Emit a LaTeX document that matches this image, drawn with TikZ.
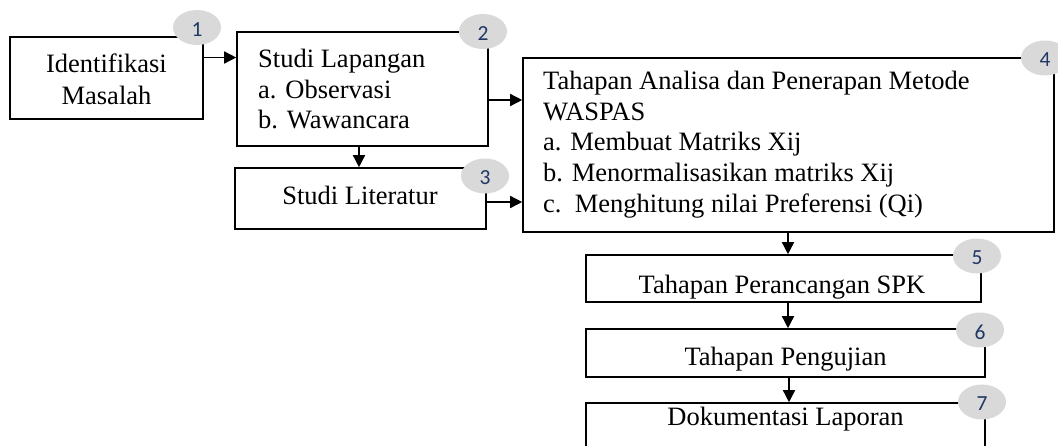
\documentclass[tikz,border=0pt]{standalone}
\usepackage{fontspec}
\setmainfont{Liberation Serif}
\newfontfamily\numfont{Carlito}
\usetikzlibrary{arrows.meta,calc,shapes.geometric}
\definecolor{numblue}{HTML}{1F3864}
\definecolor{badgegray}{HTML}{D9D9D9}
\begin{document}
\begin{tikzpicture}[x=1pt,y=-1pt,
  box/.style={draw=black,line width=1.6pt,rectangle,inner sep=0pt},
  txt/.style={font=\fontsize{26.5}{30.7}\selectfont,inner sep=0pt,anchor=base},
  txtl/.style={txt,anchor=base west},
  badge/.style={ellipse,fill=badgegray,minimum width=48pt,minimum height=35pt,inner sep=0pt},
  numtxt/.style={font=\numfont\fontsize{21.5}{24}\selectfont,text=numblue,inner sep=0pt},
  arr/.style={line width=1.5pt,-{Triangle[length=12pt,width=12pt]}}]
\useasboundingbox (0,0) rectangle (1058,445);
\clip (0,0) rectangle (1058,445);
% boxes
\node[box,minimum width=193pt,minimum height=82pt] (b1) at (106.5,78) {};
\node[box,minimum width=251pt,minimum height=114pt] (b2) at (362.5,89) {};
\node[box,minimum width=251pt,minimum height=61pt] (b3) at (360.5,198.5) {};
\node[box,minimum width=531pt,minimum height=174pt] (b4) at (788.5,145) {};
\node[box,minimum width=395pt,minimum height=47pt] (b5) at (783.5,278.5) {};
\node[box,minimum width=399pt,minimum height=48pt] (b6) at (785.5,353) {};
\node[box,minimum width=399pt,minimum height=67pt] (b7) at (785.5,436.5) {};
% texts
\node[txt] (t1a) at (106.5,72.5) {Identifikasi};
\node[txt] (t1b) at (106.5,104) {Masalah};
\node[txtl] (t2a) at (258,67) {Studi Lapangan};
\node[txtl] (t2b) at (258,98) {a. Observasi};
\node[txtl] (t2c) at (258,128) {b. Wawancara};
\node[txt] (t3) at (360,204) {Studi Literatur};
\node[txtl] (t4a) at (543,89) {Tahapan Analisa dan Penerapan Metode};
\node[txtl] (t4b) at (543,120) {WASPAS};
\node[txtl] (t4c) at (543,150.5) {a. Membuat Matriks Xij};
\node[txtl] (t4d) at (543,181) {b. Menormalisasikan matriks Xij};
\node[txtl] (t4e) at (543,212) {c.~\ Menghitung nilai Preferensi (Qi)};
\node[txt] (t5) at (782,293) {Tahapan Perancangan SPK};
\node[txt] (t6) at (785.5,365) {Tahapan Pengujian};
\node[txt] (t7) at (785.5,425) {Dokumentasi Laporan};
% badges
\node[badge] (n1) at (197,27.5) {};
\node[badge] (n2) at (483,31.5) {};
\node[badge] (n3) at (485,176) {};
\node[badge] (n4) at (1045,58) {};
\node[badge] (n5) at (977,256) {};
\node[badge] (n6) at (980,330) {};
\node[badge] (n7) at (982,402) {};
\node[numtxt] (d1) at ([yshift=-2pt]n1.center) {1};
\node[numtxt] (d2) at ([yshift=-2pt]n2.center) {2};
\node[numtxt] (d3) at ([yshift=-2pt]n3.center) {3};
\node[numtxt] (d4) at ([yshift=-2pt]n4.center) {4};
\node[numtxt] (d5) at ([yshift=-2pt]n5.center) {5};
\node[numtxt] (d6) at ([yshift=-2pt]n6.center) {6};
\node[numtxt] (d7) at ([yshift=-2pt]n7.center) {7};
% connector guides
\coordinate (r12) at (0,57.5);
\coordinate (r24) at (0,100);
\coordinate (r34) at (0,202);
\coordinate (k23) at (359,0);
\coordinate (k45) at (788,0);
\coordinate (k67) at (789,0);
% connectors
\draw[arr] (b1.east |- r12) -- (b2.west |- r12);
\draw[arr] (b2.east |- r24) -- (b4.west |- r24);
\draw[arr] (b3.east |- r34) -- (b4.west |- r34);
\draw[arr] (b2.south -| k23) -- (b3.north -| k23);
\draw[arr] (b4.south -| k45) -- (b5.north -| k45);
\draw[arr] (b5.south -| k45) -- (b6.north -| k45);
\draw[arr] (b6.south -| k67) -- (b7.north -| k67);
\end{tikzpicture}
\end{document}
